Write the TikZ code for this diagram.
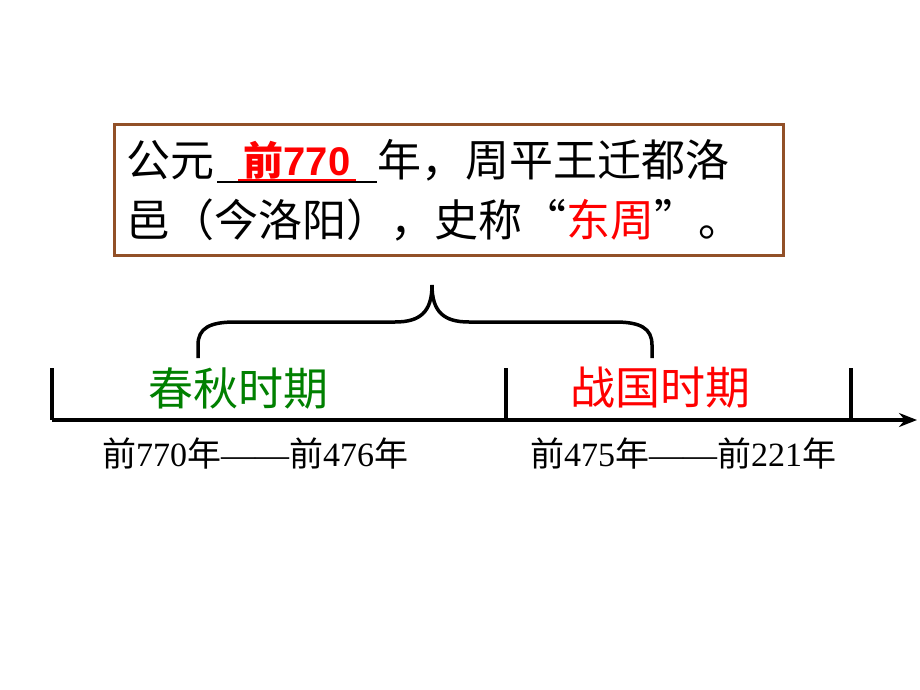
\documentclass[tikz,border=0pt]{standalone}
\usetikzlibrary{arrows.meta}
\usepackage{fontspec}
\setmainfont{Liberation Serif}
\newfontfamily\cjk{Noto Sans CJK SC}
\newfontfamily\arl{Liberation Sans}
\begin{document}
\begin{tikzpicture}[x=1pt,y=-1pt,
  big/.style={font=\cjk\fontsize{45}{47}\selectfont,inner sep=0},
  mid/.style={font=\cjk\fontsize{44}{46}\selectfont,inner sep=0},
  small/.style={font=\fontsize{34}{36}\selectfont,inner sep=0},
  ln/.style={line width=3.5pt,black}]
\useasboundingbox (0,0) rectangle (920,690);
\fill[white] (0,0) rectangle (920,690);
\node[draw=brown!70!black!90!red,line width=3pt,minimum width=669,minimum height=131,anchor=north west] (box) at (113,123) {};
\node[mid,anchor=west] (t1) at (126,160) {公元};
\coordinate (u1) at (217,182);
\coordinate (u2) at (377,182);
\draw[line width=2pt] (u1) -- (u2);
\node[inner sep=0,font=\arl\bfseries\fontsize{40}{42}\selectfont,text=red] (ans) at (297,160) {\cjk 前\arl 770};
\draw[red,line width=2pt] (238,180) -- (356,180);
\node[mid,anchor=west] (t2) at (377,160) {年，周平王迁都洛};
\node[mid,anchor=west] (t3) at (126,220) {邑（今洛阳），史称“\textcolor{red}{东周}”。};
\coordinate (bl) at (198,358);
\coordinate (br) at (652,358);
\coordinate (bt) at (432,285);
\draw[line width=3.5pt] (bl) -- (198,345) .. controls (198,328) and (210,322) .. (235,322) -- (395,322) .. controls (420,322) and (432,312) .. (bt)
  .. controls (432,312) and (444,322) .. (469,322) -- (615,322) .. controls (640,322) and (652,328) .. (652,345) -- (br);
\coordinate (a0) at (52,420);
\coordinate (a1) at (917,420);
\draw[ln,-{Stealth[length=18pt,width=14pt]}] (a0) -- (a1);
\foreach \x/\n in {52/k1,506/k2,851/k3}{\coordinate (\n) at (\x,368); \draw[ln] (\n) -- (\x,420);}
\node[big,text=green!50!black] (cq) at (238,388) {春秋时期};
\node[big,text=red] (zg) at (660,388) {战国时期};
\node[small] (d1) at (255,453) {{\cjk 前}770{\cjk 年}——{\cjk 前}476{\cjk 年}};
\node[small] (d2) at (683,453) {{\cjk 前}475{\cjk 年}——{\cjk 前}221{\cjk 年}};
\end{tikzpicture}
\end{document}
